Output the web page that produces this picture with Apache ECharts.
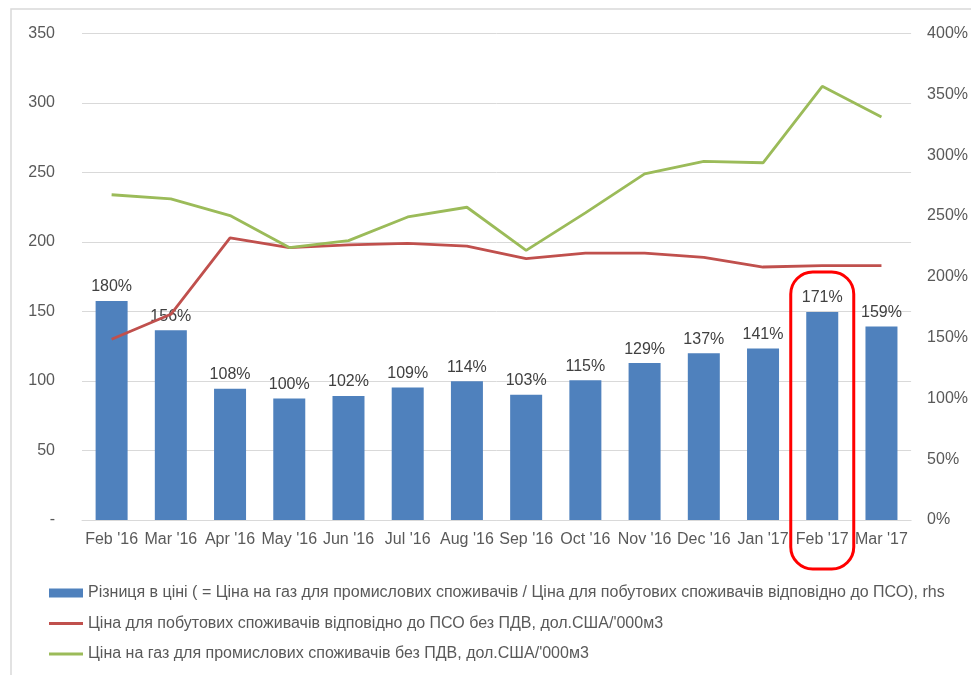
<!DOCTYPE html>
<html>
<head>
<meta charset="utf-8">
<script src="https://cdn.jsdelivr.net/npm/echarts@6/dist/echarts.min.js"></script>
<style>
  html, body { margin: 0; padding: 0; background: #fff; }
  #main { width: 971px; height: 675px; }
</style>
</head>
<body>
<div id="main"></div>
<script>
'use strict';

var months = ["Feb '16", "Mar '16", "Apr '16", "May '16", "Jun '16", "Jul '16", "Aug '16",
              "Sep '16", "Oct '16", "Nov '16", "Dec '16", "Jan '17", "Feb '17", "Mar '17"];
// ratio industrial / household, % (rhs)
var priceGap = [180, 156, 108, 100, 102, 109, 114, 103, 115, 129, 137, 141, 171, 159];
// household price under PSO, USD/'000m3
var householdPrice = [130, 148, 203, 196, 198, 199, 197, 188, 192, 192, 189, 182, 183, 183];
// industrial price, USD/'000m3
var industrialPrice = [234, 231, 219, 196, 201, 218, 225, 194, 221, 249, 258, 257, 312, 290];

var names = [
	'Різниця в ціні ( = Ціна на газ для промислових споживачів / Ціна для побутових споживачів відповідно до ПСО), rhs',
	'Ціна для побутових споживачів відповідно до ПСО без ПДВ, дол.США/\'000м3',
	'Ціна на газ для промислових споживачів без ПДВ, дол.США/\'000м3'
];
var highlightMonth = "Feb '17";

var colors = ['#4f81bd', '#c0504d', '#9bbb59'];
var labelColor = '#595959';
var gridColor = '#d9d9d9';
var font = 'Liberation Sans, Arial, sans-serif';
var lineIcon = 'path://M0,0 L34,0 L34,3 L0,3 Z';

var option = {
	animation: false,
	color: colors,
	grid: { left: 82, right: 59, top: 33.5, bottom: 155 },
	legend: {
		orient: 'vertical',
		left: 44,
		top: 580,
		itemGap: 14.5,
		itemWidth: 34,
		itemHeight: 9,
		symbolKeepAspect: true,
		textStyle: { fontSize: 16, color: labelColor, fontFamily: font },
		data: [
			{ name: names[0], icon: 'rect' },
			{ name: names[1], icon: lineIcon },
			{ name: names[2], icon: lineIcon }
		]
	},
	xAxis: [{
		type: 'category',
		data: months,
		axisLine: { lineStyle: { color: gridColor } },
		axisTick: { show: false },
		axisLabel: { color: labelColor, fontSize: 16, fontFamily: font, margin: 12, interval: 0 }
	}],
	yAxis: [
		{
			type: 'value',
			min: 0,
			max: 350,
			interval: 50,
			axisLine: { show: false },
			axisTick: { show: false },
			splitLine: { lineStyle: { color: gridColor } },
			axisLabel: {
				color: labelColor, fontSize: 16, fontFamily: font, margin: 27,
				formatter: function (v) { return v === 0 ? '-' : v; }
			}
		},
		{
			type: 'value',
			min: 0,
			max: 400,
			interval: 50,
			axisLine: { show: false },
			axisTick: { show: false },
			splitLine: { show: false },
			axisLabel: {
				color: labelColor, fontSize: 16, fontFamily: font, margin: 16,
				formatter: '{value}%'
			}
		}
	],
	series: [
		{
			name: names[0],
			type: 'bar',
			yAxisIndex: 1,
			barWidth: 32,
			data: priceGap,
			label: {
				show: true,
				position: 'top',
				distance: 6,
				formatter: '{c}%',
				color: '#404040',
				fontSize: 16,
				fontFamily: font
			}
		},
		{
			name: names[1],
			type: 'line',
			yAxisIndex: 0,
			symbol: 'none',
			lineStyle: { width: 2.8 },
			data: householdPrice
		},
		{
			name: names[2],
			type: 'line',
			yAxisIndex: 0,
			symbol: 'none',
			lineStyle: { width: 2.8 },
			data: industrialPrice
		}
	]
};

try {
	var myChart = echarts.init(document.getElementById('main'));
	myChart.setOption(option);

	// red frame round the highlighted month + thin outer border
	var cx = myChart.convertToPixel({ xAxisIndex: 0 }, highlightMonth);
	var yTop = myChart.convertToPixel({ yAxisIndex: 1 }, 171) - 40;
	myChart.setOption({
		graphic: [
			{
				type: 'polyline',
				shape: { points: [[11, 700], [11, 9], [980, 9]] },
				style: { stroke: '#d9d9d9', lineWidth: 1.5, fill: null },
				silent: true
			},
			{
				type: 'rect',
				shape: { x: cx - 31.5, y: yTop, width: 63, height: 569 - yTop, r: 22 },
				style: { stroke: '#ff0000', lineWidth: 3, fill: null },
				z: 100,
				silent: true
			}
		]
	});
} catch (e) {
	console.log(e);
}
</script>
</body>
</html>
